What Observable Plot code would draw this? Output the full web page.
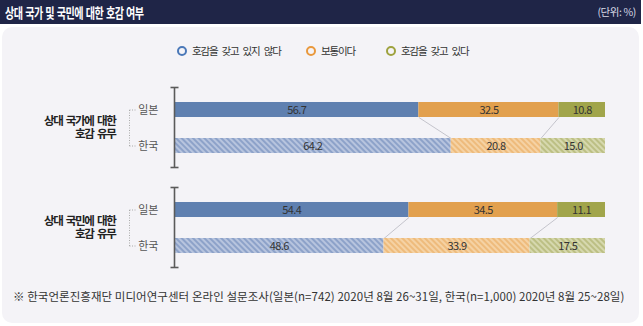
<!DOCTYPE html>
<html>
<head>
<meta charset="utf-8">
<script src="https://cdn.jsdelivr.net/npm/d3@7"></script>
<script src="https://cdn.jsdelivr.net/npm/@observablehq/plot@0.6"></script>
<style>
  html, body { margin: 0; padding: 0; background: #ffffff; }
  body { width: 643px; height: 326px; position: relative; overflow: hidden; font-family: "Noto Sans CJK KR", "Noto Sans", sans-serif; }
  #header { position: absolute; left: 0; top: 0; width: 641px; height: 24px; background: #1f2547; color: #fff; }
  #title { position: absolute; left: 5px; top: 2px; font-size: 14px; font-weight: bold; letter-spacing: -0.8px; word-spacing: 1.5px; line-height: 20px; transform: scaleX(0.72); transform-origin: 0 50%; white-space: nowrap; }
  #unit { position: absolute; right: 5px; top: 4px; font-size: 10.5px; color: #d8dae6; letter-spacing: -0.4px; line-height: 16px; }
  #panel { position: absolute; left: 2px; top: 27px; width: 637px; height: 296px; background: #f4f3f7; border-radius: 10px; }
  #legend { position: absolute; top: 43px; left: 0; width: 643px; height: 16px; font-size: 10.5px; color: #333; letter-spacing: -1.2px; word-spacing: 3px; }
  .li { position: absolute; top: 0; line-height: 16px; white-space: nowrap; }
  .ring { display: inline-block; width: 6px; height: 6px; border-radius: 50%; border: 2.5px solid; vertical-align: -1px; margin-right: 5px; }
  #chart { position: absolute; left: 0; top: 70px; }
  #footer { position: absolute; left: 13px; top: 288px; font-size: 11.5px; color: #333; letter-spacing: 0.05px; white-space: nowrap; line-height: 16px; }
</style>
</head>
<body>
<svg width="0" height="0" style="position:absolute">
  <defs>
    <pattern id="hatch0" width="4" height="4" patternUnits="userSpaceOnUse" patternTransform="rotate(-45)">
      <rect width="4" height="4" fill="#b7c4de"/><rect width="2" height="4" fill="#8da2c9"/>
    </pattern>
    <pattern id="hatch1" width="4" height="4" patternUnits="userSpaceOnUse" patternTransform="rotate(-45)">
      <rect width="4" height="4" fill="#f5d2a4"/><rect width="2" height="4" fill="#eebb7c"/>
    </pattern>
    <pattern id="hatch2" width="4" height="4" patternUnits="userSpaceOnUse" patternTransform="rotate(-45)">
      <rect width="4" height="4" fill="#d6d8ae"/><rect width="2" height="4" fill="#bcbf84"/>
    </pattern>
  </defs>
</svg>
<div id="header"><div id="title">상대 국가 및 국민에 대한 호감 여부</div><div id="unit">(단위: %)</div></div>
<div id="panel"></div>
<div id="legend"></div>
<div id="chart"></div>
<div id="footer">※ 한국언론진흥재단 미디어연구센터 온라인 설문조사(일본(n=742) 2020년 8월 26~31일, 한국(n=1,000) 2020년 8월 25~28일)</div>
<script>
// ---- data ----
const series = ["호감을 갖고 있지 않다", "보통이다", "호감을 갖고 있다"];
const groups = ["상대 국가에 대한 호감 유무", "상대 국민에 대한 호감 유무"];
const groupLabels = ["상대 국가에 대한\n호감 유무", "상대 국민에 대한\n호감 유무"];
const countries = ["일본", "한국"];
const japanValues = [[56.7, 32.5, 10.8], [54.4, 34.5, 11.1]];
const koreaValues = [[64.2, 20.8, 15.0], [48.6, 33.9, 17.5]];

// ---- styles ----
const solidColors = ["#5f80b0", "#e2a04e", "#a1a54b"];
const hatchFills = ["url(#hatch0)", "url(#hatch1)", "url(#hatch2)"];
const ringColors = ["#4a78b8", "#e9983c", "#9ea23e"];
const legendX = [177, 306, 386];

// legend
const legend = document.getElementById("legend");
series.forEach((s, i) => {
  const el = document.createElement("div");
  el.className = "li";
  el.style.left = legendX[i] + "px";
  el.innerHTML = `<span class="ring" style="border-color:${ringColors[i]}"></span>${s}`;
  legend.appendChild(el);
});

// build table
const rows = [];
const cums = {};
groups.forEach((g, gi) => {
  countries.forEach((c, ci) => {
    const vals = (ci === 0 ? japanValues : koreaValues)[gi];
    let acc = 0;
    const bounds = [0];
    vals.forEach((v, si) => {
      rows.push({group: g, country: c, series: series[si], si, ci, value: v, x1: acc, x2: acc + v});
      acc += v;
      bounds.push(acc);
    });
    cums[g + "|" + c] = bounds;
  });
});
const links = [];
groups.forEach(g => {
  [1, 2].forEach(b => {
    links.push({group: g, xa: cums[g + "|" + countries[0]][b], xb: cums[g + "|" + countries[1]][b]});
  });
});

// curve that connects the bottom edge of the upper bar to the top edge of the lower bar
const half = 7.5;
const edgeCurve = (ctx) => {
  let pts = [];
  return {
    lineStart() { pts = []; },
    lineEnd() {
      const [a, b] = pts;
      ctx.moveTo(a[0], a[1] + half);
      ctx.lineTo(b[0], b[1] - half);
    },
    point(x, y) { pts.push([x, y]); },
    areaStart() {}, areaEnd() {}
  };
};
const capSymbol = { draw(ctx) { ctx.moveTo(-4, 0); ctx.lineTo(4, 0); } };
const bracketTick = { draw(ctx) { ctx.moveTo(0, 0); ctx.lineTo(6, 0); } };
const spacing = (ls, ws) => (index, scales, values, dims, ctx, next) => {
  const g = next(index, scales, values, dims, ctx);
  if (g) { g.setAttribute("letter-spacing", ls); if (ws) g.setAttribute("word-spacing", ws); }
  return g;
};

const marks = [
  Plot.link(links, {x1: "xa", x2: "xb", y1: () => countries[0], y2: () => countries[1], fy: "group", stroke: "#b8b8c0", strokeWidth: 0.8, curve: edgeCurve}),
];
series.forEach((s, si) => {
  marks.push(Plot.barX(rows.filter(d => d.si === si && d.ci === 0), {x1: "x1", x2: "x2", y: "country", fy: "group", fill: solidColors[si]}));
  marks.push(Plot.barX(rows.filter(d => d.si === si && d.ci === 1), {x1: "x1", x2: "x2", y: "country", fy: "group", fill: hatchFills[si]}));
});
marks.push(
  Plot.text(rows, {x: d => (d.x1 + d.x2) / 2, y: "country", fy: "group", text: d => d.value.toFixed(1), fill: "#333", fontSize: 11, render: spacing(-0.6)}),
  Plot.ruleX([0], {stroke: "#5a5a5a", strokeWidth: 1.6}),
  Plot.dot([0], {x: d => d, frameAnchor: "top", symbol: capSymbol, stroke: "#5a5a5a", strokeWidth: 1.6, fill: "none"}),
  Plot.dot([0], {x: d => d, frameAnchor: "bottom", symbol: capSymbol, stroke: "#5a5a5a", strokeWidth: 1.6, fill: "none"}),
  Plot.link([0], {x1: 0, x2: 0, y1: () => countries[0], y2: () => countries[1], dx: -45, stroke: "#aaa", strokeWidth: 1, strokeDasharray: "1,1.5"}),
  Plot.dot(countries, {x: () => 0, y: d => d, dx: -45, symbol: bracketTick, stroke: "#aaa", strokeWidth: 1, strokeDasharray: "1,1.5", fill: "none"}),
  Plot.axisY({anchor: "left", tickSize: 0, tickPadding: 16, fontSize: 11, fill: "#555", label: null}),
  Plot.text(groups, {fy: d => d, text: d => groupLabels[groups.indexOf(d)], frameAnchor: "left", dx: -59, textAnchor: "end", fontSize: 11.5, fontWeight: "bold", fill: "#222", lineHeight: 1.15, render: spacing(-1.3, 2)})
);

const chart = Plot.plot({
  width: 643,
  height: 200,
  marginLeft: 174,
  marginRight: 38,
  marginTop: 16,
  marginBottom: 2,
  style: {background: "transparent", fontFamily: "'Noto Sans CJK KR', sans-serif", overflow: "visible"},
  x: {domain: [0, 100], axis: null},
  y: {domain: countries, paddingInner: 0.595, paddingOuter: 0.405},
  fy: {domain: groups, paddingInner: 0.198, paddingOuter: 0, axis: null},
  marks
});
document.getElementById("chart").appendChild(chart);
</script>
</body>
</html>
